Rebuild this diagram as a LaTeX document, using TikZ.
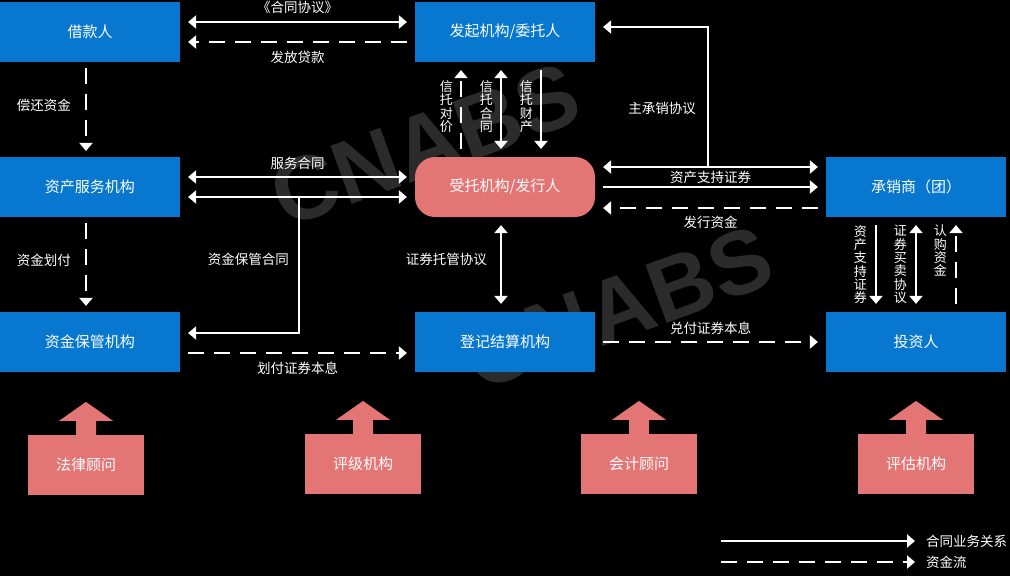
\documentclass[tikz,border=0pt]{standalone}
\usepackage{fontspec}
\setmainfont{Noto Sans CJK SC}
\newfontfamily\wmfont{Liberation Sans}
\usetikzlibrary{arrows.meta,calc}
\definecolor{boxblue}{HTML}{0777CF}
\definecolor{boxred}{HTML}{E37575}
\definecolor{wmgray}{HTML}{2B2B2B}
\begin{document}
\begin{tikzpicture}[x=1pt,y=-1pt,>={Triangle[width=13pt,length=8pt]},line width=2.2pt,
        every node/.style={text=white,inner sep=0pt}]
    \tikzset{blue node/.style={fill=boxblue,minimum width=180pt,minimum height=60pt,font=\fontsize{15}{18}\selectfont},
        red node/.style={blue node,fill=boxred,rounded corners=20pt},
        adv node/.style={blue node,fill=boxred,minimum width=116pt},
        lbl/.style={font=\fontsize{13.5}{16}\selectfont},
        vlbl/.style={font=\fontsize{13}{13.3}\selectfont,align=center},
        ht/.style={draw=white,shorten <=7pt,shorten >=7pt},
        flow/.style={ht,dash pattern=on 16pt off 10pt}}
    \fill[black] (0,0) rectangle (1010,576);
    \node[text=wmgray,rotate=20,font=\wmfont\bfseries\fontsize{90}{90}\selectfont] (wm1) at (425,145) {CNABS};
    \node[text=wmgray,rotate=20,font=\wmfont\bfseries\fontsize{90}{90}\selectfont] (wm2) at (618,308) {CNABS};

    \node[blue node] (jkr) at (90,32) {借款人};
    \node[blue node] (fq) at (505,32) {发起机构/委托人};
    \node[blue node] (zcfw) at (90,187) {资产服务机构};
    \node[red node] (st) at (505,187) {受托机构/发行人};
    \node[blue node] (cxs) at (916,187) {承销商（团）};
    \node[blue node] (zjbg) at (90,342) {资金保管机构};
    \node[blue node] (djjs) at (505,342) {登记结算机构};
    \node[blue node] (tzr) at (916,342) {投资人};
    \node[adv node] (flgw) at (86,465) {法律顾问};
    \node[adv node] (pjjg) at (363,464) {评级机构};
    \node[adv node] (kjgw) at (639,464) {会计顾问};
    \node[adv node] (pgjg) at (916,464) {评估机构};
    \foreach \n in {flgw,pjjg,kjgw,pgjg}
        \fill[boxred] ([xshift=-10pt,yshift=-1pt]\n.north) -- ++(0,-14) -- ++(-17,0) -- ++(27,-19) -- ++(27,19) -- ++(-17,0) -- ++(0,14) -- cycle;

    \draw[ht,<->] ([yshift=10pt]jkr.east) -- node[lbl,yshift=15pt] {《合同协议》} ([yshift=10pt]fq.west);
    \draw[flow,->] ([yshift=-10pt]fq.west) -- node[lbl,yshift=-15pt] {发放贷款} ([yshift=-10pt]jkr.east);
    \draw[flow,->,shorten <=5pt,shorten >=5pt] ([xshift=-4pt]jkr.south) -- node[lbl,pos=0.45,left=14pt] {偿还资金} ([xshift=-4pt]zcfw.north);
    \draw[flow,->,shorten <=5pt,shorten >=5pt] ([xshift=-4pt]zcfw.south) -- node[lbl,pos=0.45,left=14pt] {资金划付} ([xshift=-4pt]zjbg.north);

    \draw[ht,<->] ([yshift=10pt]zcfw.east) -- node[lbl,yshift=14pt] {服务合同} ([yshift=10pt]st.west);
    \draw[ht,<->] ([yshift=-10pt]zcfw.east) -- ([yshift=-10pt]st.west);
    \coordinate (bgsplit) at (299,197);
    \draw[ht,->,shorten <=0pt] (bgsplit) |- node[lbl,pos=0.23,left=9pt] {资金保管合同} ([yshift=9pt]zjbg.east);
    \draw[flow,->] ([yshift=-11pt]zjbg.east) -- node[lbl,yshift=-15pt] {划付证券本息} ([yshift=-11pt]djjs.west);

    \draw[flow,->] ([xshift=-44pt]st.north) -- node[vlbl,pos=0.53,left=7pt] {信\\托\\对\\价} ([xshift=-44pt]fq.south);
    \draw[ht,<->] ([xshift=-4pt]fq.south) -- node[vlbl,pos=0.47,left=7pt] {信\\托\\合\\同} ([xshift=-4pt]st.north);
    \draw[ht,->] ([xshift=36pt]fq.south) -- node[vlbl,pos=0.47,left=7pt] {信\\托\\财\\产} ([xshift=36pt]st.north);
    \draw[ht,<->] ([xshift=-4pt]st.south) -- node[lbl,pos=0.44,left=13pt] {证券托管协议} ([xshift=-4pt]djjs.north);

    \draw[ht,<->] ([yshift=20pt]st.east) -- node[lbl,yshift=-10pt] {资产支持证券} ([yshift=20pt]cxs.west);
    \draw[ht,->] (st.east) -- (cxs.west);
    \draw[flow,->] ([yshift=-21pt]cxs.west) -- node[lbl,yshift=-14pt] {发行资金} ([yshift=-21pt]st.east);
    \coordinate (zcxsplit) at (708,167);
    \draw[ht,->,shorten <=0pt] (zcxsplit) |- node[lbl,pos=0.21,left=11pt] {主承销协议} ([yshift=5pt]fq.east);

    \draw[ht,->] ([xshift=-40pt]cxs.south) -- node[vlbl,midway,left=8pt] {资\\产\\支\\持\\证\\券} ([xshift=-40pt]tzr.north);
    \draw[ht,<->] (cxs.south) -- node[vlbl,midway,left=8pt] {证\\券\\买\\卖\\协\\议} (tzr.north);
    \draw[flow,->] ([xshift=40pt]tzr.north) -- node[vlbl,pos=0.65,left=8pt] {认\\购\\资\\金} ([xshift=40pt]cxs.south);
    \draw[flow,->] (djjs.east) -- node[lbl,yshift=14pt] {兑付证券本息} (tzr.west);

    \node[lbl,anchor=west] (lg1) at (925,541) {合同业务关系};
    \node[lbl,anchor=west] (lg2) at (925,562) {资金流};
    \coordinate (lg1s) at (721,541);
    \coordinate (lg2s) at (721,562);
    \draw[ht,->,shorten <=0pt,shorten >=10pt] (lg1s) -- (lg1);
    \draw[flow,->,shorten <=0pt,shorten >=10pt] (lg2s) -- (lg2);
\end{tikzpicture}
\end{document}
